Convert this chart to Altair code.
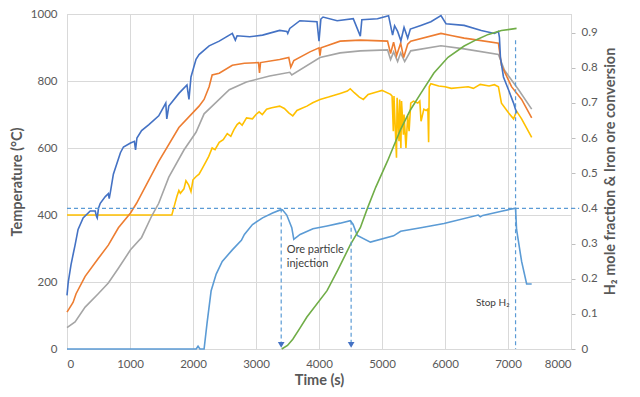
import altair as alt
import pandas as pd

# ---- Temperature series (time s, temperature °C) ----
blue_pts = [(0,160),(20,200),(64,252),(100,285),(128,310),(176,357),(256,391),(368,412),(448,412),(470,395),(480,391),(500,420),(528,435),(608,455),(656,464),(670,449),(690,470),(736,522),(848,586),(896,603),(1008,615),(1070,620),(1088,594),(1110,630),(1184,652),(1300,670),(1456,696),(1568,734),(1584,687),(1616,725),(1776,763),(1904,788),(1936,745),(1968,812),(2048,865),(2096,879),(2256,905),(2416,919),(2624,942),(2672,922),(2700,935),(2900,932),(3104,937),(3376,951),(3490,948),(3504,942),(3536,957),(3696,980),(3968,977),(4000,919),(4030,985),(4064,991),(4288,980),(4544,986),(4656,934),(4680,983),(4928,986),(5104,995),(5168,937),(5200,965),(5248,948),(5300,920),(5350,960),(5408,928),(5450,955),(5616,966),(5776,977),(5936,995),(6016,971),(6304,966),(6576,951),(6784,942),(6848,948),(6864,930),(6880,870),(6928,812),(7008,774),(7088,734),(7136,705)]
orange_pts = [(0,110),(96,139),(144,165),(288,217),(496,270),(656,310),(816,362),(1008,406),(1104,435),(1456,560),(1776,661),(2096,725),(2176,745),(2256,783),(2304,818),(2416,823),(2624,847),(2816,853),(3040,855),(3056,824),(3072,855),(3376,864),(3520,870),(3552,841),(3600,861),(3856,887),(4000,899),(4016,876),(4032,899),(4336,919),(4656,922),(5088,919),(5136,882),(5184,916),(5232,876),(5296,913),(5344,870),(5408,910),(5456,919),(5936,942),(6096,936),(6304,928),(6416,925),(6848,913),(6896,847),(7056,783),(7216,745),(7376,690)]
gray_pts = [(0,64),(128,81),(288,125),(496,165),(656,197),(816,241),(1008,296),(1184,333),(1344,397),(1456,435),(1616,513),(1856,594),(2048,647),(2176,702),(2304,725),(2576,774),(2848,797),(3216,815),(3536,826),(3568,818),(4016,870),(4336,884),(4656,890),(5088,893),(5136,864),(5184,887),(5248,858),(5296,884),(5360,858),(5456,890),(5936,905),(6304,896),(6848,879),(6944,832),(7168,774),(7376,716)]
yellow_pts = [(0,400),(1664,400),(1700,425),(1744,455),(1776,473),(1800,465),(1856,478),(1888,502),(1930,490),(1968,470),(2000,505),(2050,515),(2096,522),(2150,540),(2208,560),(2250,575),(2304,600),(2350,595),(2416,617),(2480,625),(2544,643),(2600,635),(2650,655),(2700,670),(2736,676),(2780,668),(2850,690),(2944,687),(3000,700),(3050,708),(3100,700),(3168,716),(3250,720),(3376,725),(3450,718),(3520,705),(3584,696),(3650,712),(3720,718),(3808,725),(3900,735),(4016,745),(4150,752),(4336,763),(4450,770),(4496,777),(4560,765),(4640,752),(4704,745),(4780,760),(4928,768),(5000,772),(5136,760),(5160,755),(5180,650),(5190,755),(5230,571),(5240,750),(5270,620),(5280,745),(5300,600),(5310,740),(5340,640),(5350,700),(5380,600),(5408,696),(5430,650),(5456,734),(5500,740),(5568,734),(5600,740),(5620,680),(5664,716),(5700,712),(5728,716),(5740,617),(5750,783),(5776,792),(5900,785),(6000,783),(6100,778),(6200,780),(6368,783),(6450,778),(6560,790),(6700,785),(6784,789),(6848,783),(6896,734),(7008,705),(7088,687),(7136,710),(7216,687),(7376,632)]

# ---- Right axis series (time s, fraction) ----
h2_pts = [(0,0),(2050,0),(2080,0.008),(2110,0),(2176,0),(2224,0.075),(2288,0.166),(2368,0.213),(2464,0.249),(2624,0.282),(2768,0.309),(2816,0.326),(2944,0.354),(3104,0.373),(3264,0.387),(3376,0.395),(3420,0.396),(3488,0.381),(3568,0.345),(3600,0.312),(3700,0.326),(3904,0.342),(4128,0.350),(4336,0.358),(4496,0.365),(4540,0.355),(4608,0.323),(4816,0.304),(5184,0.322),(5296,0.335),(5616,0.345),(5984,0.357),(6528,0.381),(6560,0.376),(6600,0.380),(6896,0.392),(7104,0.400),(7120,0.400),(7136,0.340),(7216,0.249),(7296,0.185),(7376,0.185)]
conv_pts = [(3408,0),(3500,0.01),(3584,0.028),(3700,0.06),(3808,0.091),(4128,0.166),(4300,0.225),(4496,0.296),(4656,0.345),(4768,0.40),(4900,0.46),(5088,0.535),(5296,0.625),(5450,0.68),(5616,0.727),(5824,0.785),(6048,0.83),(6304,0.862),(6500,0.88),(6688,0.895),(6896,0.906),(7136,0.912)]

# ---- Annotations ----
hline_level = [0.40]
hline_span = [0, 8130]
arrows_t = [3400, 4510]
arrows_top = [0.40, 0.365]
stop_t = [7120]
stop_top = [0.878]
notes = ["Ore particle", "injection", "Stop H₂"]
notes_t = [3488, 3488, 7024]
notes_v = [0.282, 0.243, 0.130]

x_ticks = list(range(0, 8001, 1000))
left_ticks = [0, 200, 400, 600, 800, 1000]
right_ticks = [0, 0.1, 0.2, 0.3, 0.4, 0.5, 0.6, 0.7, 0.8, 0.9]

series_names = ["T1", "T2", "T3", "T4", "H2", "Conversion"]
series_colors = ["#4472C4", "#ED7D31", "#A5A5A5", "#FFC000", "#5B9BD5", "#70AD47"]
series_widths = [1.6, 1.6, 1.6, 2.6, 1.6, 1.6]

def long(name, pts):
    return pd.DataFrame({"time": [p[0] for p in pts], "value": [p[1] for p in pts], "series": name})

temp_df = pd.concat([long("T4", yellow_pts), long("T3", gray_pts), long("T2", orange_pts), long("T1", blue_pts)])
frac_df = pd.concat([long("H2", h2_pts), long("Conversion", conv_pts)])

FONT = "Lato"
GRID = "#D9D9D9"
xs = alt.Scale(domain=[0, 8000], nice=False, zero=False)
ly = alt.Scale(domain=[0, 1000], nice=False)
ry = alt.Scale(domain=[0, 0.953], nice=False)
cs = alt.Scale(domain=series_names, range=series_colors)
ws = alt.Scale(domain=series_names, range=series_widths)

x_axis = alt.Axis(values=x_ticks, format="d", title="Time (s)", grid=False, labelPadding=9, titlePadding=4)
left_axis = alt.Axis(values=left_ticks, format="d", orient="left", title="Temperature (°C)",
                     grid=False, labelPadding=10, titlePadding=6)
right_axis = alt.Axis(values=right_ticks, orient="right", title="H₂ mole fraction & Iron ore conversion",
                      labelExpr="datum.value == 0 ? '0' : format(datum.value, '.1f')",
                      grid=False, domain=True, domainColor="#BFBFBF", ticks=True, tickColor="#BFBFBF",
                      tickSize=4, labelPadding=6, titlePadding=6, titleAngle=270, titleBaseline="top",
                      titleY=157)

def X(field):
    return alt.X(field, scale=xs, axis=x_axis)

def LY(field):
    return alt.Y(field, scale=ly, axis=left_axis)

def RY(field):
    return alt.Y(field, scale=ry, axis=right_axis)

# gridlines (vertical at each time tick, horizontal at each temperature tick)
gv_df = pd.DataFrame({"time": x_ticks, "lo": [0] * len(x_ticks), "hi": [1000] * len(x_ticks)})
gv = alt.Chart(gv_df).mark_rule(color=GRID, strokeWidth=1, xOffset=0.5).encode(
    x=X("time:Q"), y=LY("lo:Q"), y2="hi:Q")
gh_df = pd.DataFrame({"value": left_ticks, "t0": [0] * len(left_ticks), "t1": [8000] * len(left_ticks)})
gh = alt.Chart(gh_df).mark_rule(color=GRID, strokeWidth=1, yOffset=0.5).encode(
    x=X("t0:Q"), x2="t1:Q", y=LY("value:Q"))

temp = alt.Chart(temp_df).mark_line().encode(
    x=X("time:Q"),
    y=LY("value:Q"),
    color=alt.Color("series:N", scale=cs, legend=None),
    strokeWidth=alt.StrokeWidth("series:N", scale=ws, legend=None),
    order=alt.Order("time:Q"),
)

frac = alt.Chart(frac_df).mark_line().encode(
    x=X("time:Q"),
    y=RY("value:Q"),
    color=alt.Color("series:N", scale=cs, legend=None),
    strokeWidth=alt.StrokeWidth("series:N", scale=ws, legend=None),
    order=alt.Order("time:Q"),
)

DASH = [4, 3]
hl_df = pd.DataFrame({"time": [hline_span[0]], "time2": [hline_span[1]], "value": hline_level})
hline = alt.Chart(hl_df).mark_rule(color="#5B9BD5", strokeWidth=1.2, strokeDash=DASH).encode(
    x=X("time:Q"), x2="time2:Q", y=RY("value:Q"))

ar_df = pd.DataFrame({"time": arrows_t, "value": arrows_top, "bot": [0.012] * len(arrows_t)})
arr_lines = alt.Chart(ar_df).mark_rule(color="#5B9BD5", strokeWidth=1.2, strokeDash=DASH).encode(
    x=X("time:Q"), y=RY("value:Q"), y2="bot:Q")
arr_heads = alt.Chart(ar_df).mark_point(shape="triangle-down", filled=True, color="#4472C4", size=45, opacity=1).encode(
    x=X("time:Q"), y=RY("bot:Q"))

st_df = pd.DataFrame({"time": stop_t, "value": stop_top, "bot": [0.0]})
stop_line = alt.Chart(st_df).mark_rule(color="#5B9BD5", strokeWidth=1.2, strokeDash=DASH).encode(
    x=X("time:Q"), y=RY("value:Q"), y2="bot:Q")

nt_df = pd.DataFrame({"time": notes_t, "value": notes_v, "txt": notes})
note_left = alt.Chart(nt_df.iloc[:2]).mark_text(align="left", baseline="middle", font=FONT, fontSize=11,
                                                color="#404040").encode(
    x=X("time:Q"), y=RY("value:Q"), text="txt:N")
note_right = alt.Chart(nt_df.iloc[2:]).mark_text(align="right", baseline="middle", font=FONT, fontSize=10,
                                                 color="#404040").encode(
    x=X("time:Q"), y=RY("value:Q"), text="txt:N")

left_group = alt.layer(gv, gh, temp)
right_group = alt.layer(frac, hline, arr_lines, arr_heads, stop_line, note_left, note_right)

chart = alt.layer(left_group, right_group).resolve_scale(y="independent").properties(
    width=504, height=335, autosize="none",
    padding={"left": 59, "top": 6, "right": 60, "bottom": 40},
).configure_view(stroke=None).configure_axis(
    labelFont=FONT, labelFontSize=11.5, labelColor="#595959",
    titleFont=FONT, titleFontSize=14.5, titleColor="#595959", titleFontWeight="bold",
    domain=False, ticks=False,
)

chart.save("out.html", embed_options={"renderer": "svg", "actions": False})
